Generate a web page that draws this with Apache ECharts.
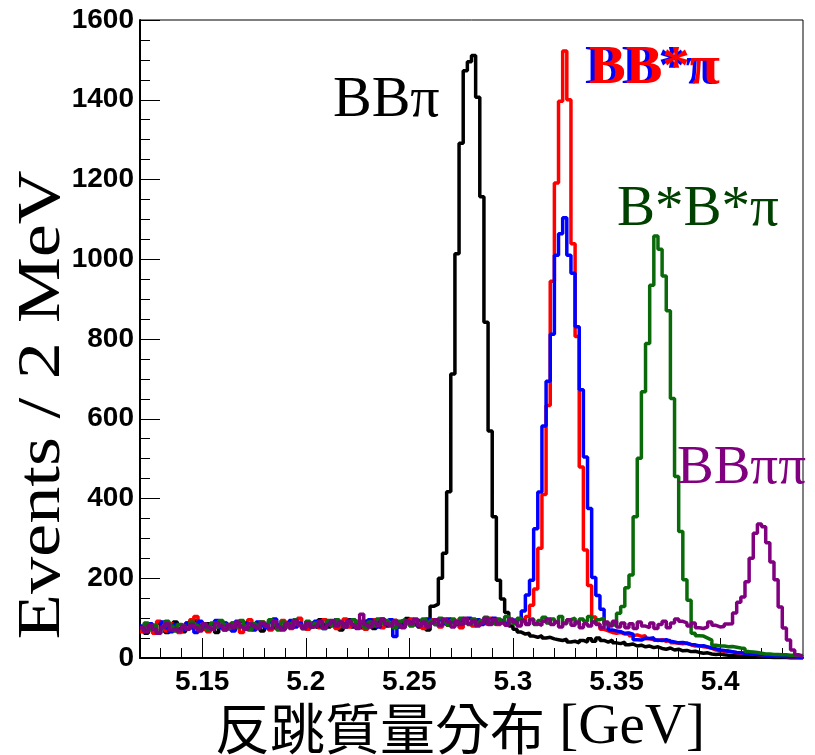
<!DOCTYPE html>
<html>
<head>
<meta charset="utf-8">
<script src="https://cdn.jsdelivr.net/npm/echarts@6/dist/echarts.min.js"></script>
<style>
  html, body { margin: 0; padding: 0; background: #fff; }
  #chart { width: 815px; height: 755px; }
</style>
</head>
<body>
<div id="chart"></div>
<script>
// Recoil mass histograms, 160 bins of 2 MeV from 5.12 to 5.44 GeV
const histLow = 5.12;
const histBinWidth = 0.002;

const bbpi = [
  68,62,80,70,88,74,64,82,90,72,
  66,84,76,94,70,78,86,72,64,80,
  88,74,70,82,92,78,72,86,80,68,
  84,92,76,82,72,88,78,94,84,74,
  90,80,76,96,84,78,90,82,70,86,
  96,78,88,76,92,82,74,90,98,80,
  86,94,78,92,99,90,84,78,88,70,
  130,135,200,263,417,712,1014,1291,1473,1495,
  1511,1406,1157,842,569,354,195,148,114,80,
  72,65,60,62,55,52,56,50,52,48,
  46,44,47,40,42,38,44,40,48,42,
  50,44,40,45,38,36,40,33,35,30,
  32,28,30,26,28,24,22,25,20,22,
  18,19,16,17,14,12,13,10,9,10,
  8,7,6,6,5,4,4,3,3,2,
  2,2,1,1,1,1,0,0,0,0
];

const bbstpiRed = [
  66,82,74,62,92,78,68,86,76,64,
  80,88,96,104,82,72,66,84,78,92,
  70,80,88,76,64,82,96,72,84,90,
  78,70,86,80,94,82,74,88,100,80,
  72,88,84,76,96,86,80,74,90,98,
  78,84,92,80,72,88,96,84,76,90,
  82,94,86,78,92,98,84,80,74,88,
  96,86,78,92,82,98,88,76,94,86,
  80,96,88,84,100,90,84,94,86,96,
  88,98,95,104,132,173,275,410,633,945,
  1191,1396,1522,1400,1039,806,479,271,182,103,
  85,72,68,64,62,64,60,62,56,58,
  54,56,48,46,44,46,42,44,38,37,
  36,37,33,30,31,28,27,24,20,19,
  17,18,15,13,12,12,11,10,9,8,
  7,6,6,5,5,4,3,3,2,2
];

const bbstpiBlue = [
  80,68,86,72,62,90,76,66,84,74,
  70,88,78,64,92,80,72,84,94,76,
  86,74,68,92,80,88,76,70,90,82,
  76,90,98,82,72,84,94,78,88,76,
  86,78,92,80,74,90,84,96,88,78,
  94,84,76,90,80,96,86,78,92,84,
  96,54,84,80,92,86,82,94,88,98,
  90,84,96,86,98,90,84,94,88,100,
  90,96,84,92,86,100,88,94,86,96,
  92,98,118,158,195,324,416,582,694,812,
  1010,1064,1104,1010,965,831,673,504,375,202,
  157,122,88,70,68,66,62,63,60,46,
  45,50,49,51,45,44,46,42,40,38,
  39,37,34,33,30,31,28,25,23,20,
  19,17,16,14,13,12,11,10,9,8,
  7,7,6,5,4,4,3,3,2,1
];

const bstbstpi = [
  74,88,70,82,64,76,92,80,68,84,
  80,72,90,82,74,86,70,88,78,94,
  84,74,88,78,94,80,70,86,76,90,
  80,96,82,70,90,78,86,96,82,74,
  92,78,88,84,74,94,82,96,86,78,
  88,96,82,92,76,90,80,98,86,94,
  84,76,92,96,86,80,94,84,98,88,
  94,84,100,90,82,96,86,100,90,84,
  98,86,94,102,88,84,98,90,104,92,
  86,100,92,86,98,84,94,102,88,98,
  90,104,86,96,100,88,98,92,104,90,
  96,100,86,84,82,112,129,176,208,354,
  501,668,789,935,1058,1025,958,871,651,455,
  317,196,145,62,56,55,50,45,32,30,
  30,28,29,27,25,24,16,15,14,12,
  10,10,9,9,8,8,7,7,6,6
];

const bbpipi = [
  76,66,82,72,62,78,86,70,74,68,
  80,72,84,76,68,86,78,72,88,80,
  70,84,76,90,78,72,86,80,74,88,
  82,74,92,78,70,86,76,94,82,74,
  88,78,82,92,76,84,94,80,90,78,
  92,82,74,110,84,78,90,82,96,86,
  80,92,84,76,94,86,98,80,90,78,
  88,96,82,98,90,78,92,84,100,86,
  94,80,88,100,84,96,86,90,82,98,
  90,80,94,84,96,86,82,92,98,84,
  90,78,88,96,82,90,76,86,80,90,
  84,76,90,80,92,78,88,76,86,74,
  90,80,76,88,74,84,92,76,88,98,
  92,88,80,88,76,74,78,90,82,78,
  79,85,86,113,140,153,191,250,313,336,
  329,289,241,196,128,75,45,20,8,3
];

const xTickLabels = [5.15, 5.2, 5.25, 5.3, 5.35, 5.4];
const yTickLabels = [0, 200, 400, 600, 800, 1000, 1200, 1400, 1600];

// Histogram outline: one point per lower bin edge plus the upper edge
function histPoints(counts) {
  const pts = counts.map((c, i) => [+(histLow + histBinWidth * i).toFixed(3), c]);
  pts.push([+(histLow + histBinWidth * counts.length).toFixed(3), counts[counts.length - 1]]);
  return pts;
}

const xMin = histLow;
const xMax = +(histLow + histBinWidth * bbpi.length).toFixed(3);

// minor ticks every 10 MeV
const xMinorTicks = [];
for (let k = 1; k < 32; k++) {
  const v = +(xMin + 0.01 * k).toFixed(2);
  if (xTickLabels.indexOf(v) < 0) xMinorTicks.push(v);
}

const tickFont = { fontFamily: 'Liberation Sans', fontWeight: 'bold', fontSize: 28, color: '#000' };

function hist(name, counts, color, z) {
  return {
    name: name, type: 'line', step: 'end', data: histPoints(counts),
    showSymbol: false, symbol: 'none', z: z, silent: true,
    lineStyle: { color: color, width: 3.5 }
  };
}

const chart = echarts.init(document.getElementById('chart'), null, { renderer: 'canvas' });
chart.setOption({
  animation: false,
  backgroundColor: '#fff',
  grid: { left: 140, top: 20, width: 663, height: 638, show: true, borderColor: '#000', borderWidth: 1, backgroundColor: 'transparent' },
  xAxis: [
    {
      type: 'value', min: xMin, max: xMax,
      axisLine: { show: true, onZero: false, lineStyle: { color: '#000', width: 2 } },
      axisTick: { show: true, inside: true, length: 20, customValues: xTickLabels, lineStyle: { color: '#000', width: 1 } },
      axisLabel: { show: true, customValues: xTickLabels, margin: 10, formatter: v => String(+v.toFixed(2)), ...tickFont },
      splitLine: { show: false }
    },
    {
      type: 'value', min: xMin, max: xMax, position: 'bottom',
      axisLine: { show: false },
      axisTick: { show: true, inside: true, length: 10, customValues: xMinorTicks, lineStyle: { color: '#000', width: 1 } },
      axisLabel: { show: false },
      splitLine: { show: false }
    }
  ],
  yAxis: {
    type: 'value', min: 0, max: 1600, interval: 200,
    axisLine: { show: true, lineStyle: { color: '#000', width: 2 } },
    axisTick: { show: true, inside: true, length: 20, lineStyle: { color: '#000', width: 1 } },
    minorTick: { show: true, splitNumber: 4, length: 10, lineStyle: { color: '#000', width: 1 } },
    axisLabel: { show: true, margin: 6, customValues: yTickLabels, formatter: v => String(v), ...tickFont },
    splitLine: { show: false }
  },
  series: [
    hist('BBπ', bbpi, '#000000', 2),
    hist('BB*π (red)', bbstpiRed, '#ff0000', 3),
    hist('BB*π (blue)', bbstpiBlue, '#0000ff', 4),
    hist('B*B*π', bstbstpi, '#0a6a0a', 5),
    hist('BBππ', bbpipi, '#800080', 6)
  ],
  graphic: [
    { type: 'text', x: 333, y: 101, z: 10, style: { text: 'BBπ', fill: '#000', font: '58px "Liberation Serif"', textAlign: 'left', textVerticalAlign: 'middle' } },
    { type: 'text', x: 585, y: 69, z: 10, style: { text: 'BB*π', fill: '#0000ff', font: 'bold 55px "Liberation Serif"', textAlign: 'left', textVerticalAlign: 'middle' } },
    { type: 'text', x: 589, y: 69, z: 11, style: { text: 'BB*π', fill: '#ff0000', font: 'bold 55px "Liberation Serif"', textAlign: 'left', textVerticalAlign: 'middle' } },
    { type: 'text', x: 617, y: 210, z: 10, style: { text: 'B*B*π', fill: '#004000', font: '57px "Liberation Serif"', textAlign: 'left', textVerticalAlign: 'middle' } },
    { type: 'text', x: 677, y: 469, z: 10, style: { text: 'BBππ', fill: '#800080', font: '55px "Liberation Serif"', textAlign: 'left', textVerticalAlign: 'middle' } },
    { type: 'text', x: 43, y: 405, rotation: Math.PI / 2, scaleX: 1.2, z: 10, style: { text: 'Events / 2 MeV', fill: '#000', font: '62px "Liberation Serif"', textAlign: 'center', textVerticalAlign: 'middle' } },
    { type: 'text', x: 460, y: 728, z: 10, style: {
        text: '{c|反跳質量分布}{e| [GeV]}', textAlign: 'center', textVerticalAlign: 'middle',
        rich: {
          c: { fontFamily: 'Noto Sans CJK TC', fontSize: 55, fill: '#000' },
          e: { fontFamily: 'Liberation Serif', fontSize: 57, fill: '#000' }
        }
      } }
  ]
});
</script>
</body>
</html>
